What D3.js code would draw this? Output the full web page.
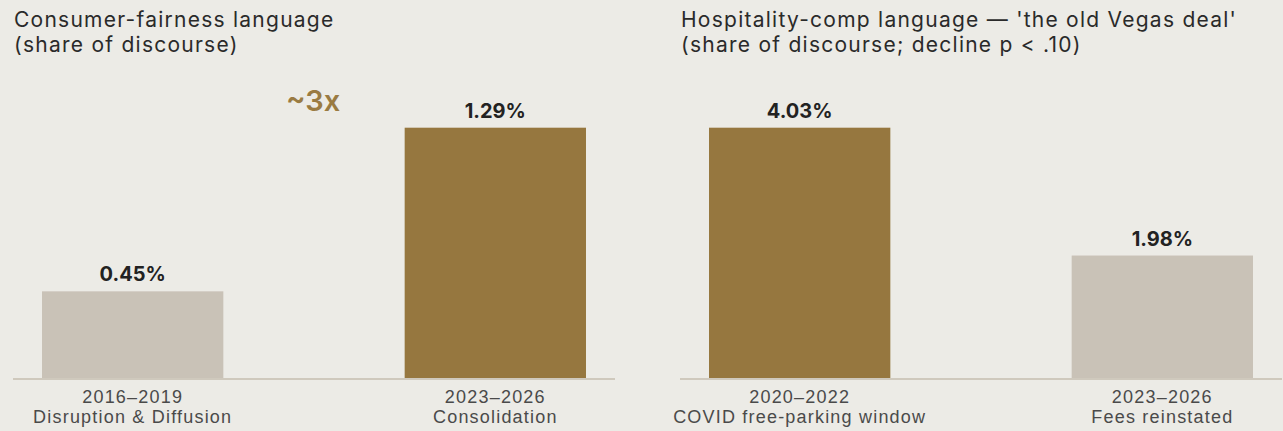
<!DOCTYPE html>
<html>
<head>
<meta charset="utf-8">
<script src="https://cdn.jsdelivr.net/npm/d3@7"></script>
<style>
  html, body { margin: 0; padding: 0; background: #ecebe6; }
  svg { display: block; font-family: Inter, "Noto Sans", sans-serif; }
</style>
</head>
<body>
<div id="chart"></div>
<script>
// ---- data ----
const leftTitle = ["Consumer-fairness language", "(share of discourse)"];
const leftCats = ["2016–2019|Disruption & Diffusion", "2023–2026|Consolidation"];
const leftValues = [0.45, 1.29];
const leftHighlight = [false, true];

const rightTitle = ["Hospitality-comp language — 'the old Vegas deal'", "(share of discourse; decline p < .10)"];
const rightCats = ["2020–2022|COVID free-parking window", "2023–2026|Fees reinstated"];
const rightValues = [4.03, 1.98];
const rightHighlight = [true, false];

const W = 1283, H = 431;
const GOLD = "#96773f", GREY = "#c9c2b7";

const svg = d3.select("#chart").append("svg")
  .attr("width", W).attr("height", H);

svg.append("rect").attr("width", W).attr("height", H).attr("fill", "#ecebe6");

function panel(x0, x1, title, cats, values, hl) {
  const g = svg.append("g");
  const x = d3.scaleBand().domain(cats).range([x0, x1])
    .paddingInner(0.5).paddingOuter(0.08);
  const y = d3.scaleLinear().domain([0, d3.max(values) * 1.15]).range([379, 90]);

  // title
  g.append("text").attr("x", x0 + 1).attr("y", 27)
    .attr("fill", "#2a2a2a").style("font-size", "21px").style("letter-spacing", "1.25px")
    .selectAll("tspan").data(title).join("tspan")
    .attr("x", x0 + 1).attr("dy", (d, i) => i ? 25 : 0).text(d => d);

  // bars
  g.selectAll("rect.bar").data(cats).join("rect")
    .attr("class", "bar")
    .attr("x", d => x(d)).attr("width", x.bandwidth())
    .attr("y", (d, i) => y(values[i]))
    .attr("height", (d, i) => y(0) - y(values[i]))
    .attr("fill", (d, i) => hl[i] ? GOLD : GREY);

  // value labels
  g.selectAll("text.val").data(cats).join("text")
    .attr("class", "val")
    .attr("x", d => x(d) + x.bandwidth() / 2)
    .attr("y", (d, i) => y(values[i]) - 10)
    .attr("text-anchor", "middle")
    .attr("fill", "#222").style("font-size", "20px").style("font-weight", 700)
    .text((d, i) => values[i].toFixed(2) + "%");

  // axis
  const ax = g.append("g").attr("transform", `translate(0,${y(0)})`)
    .call(d3.axisBottom(x).tickSize(0).tickPadding(0));
  ax.select(".domain").attr("stroke", "#cfc9bd").attr("stroke-width", 2)
    .attr("d", `M${x0},0H${x1}`);
  ax.selectAll(".tick text").remove();
  ax.selectAll(".tick").append("text")
    .attr("text-anchor", "middle").attr("fill", "#4a4a4a")
    .style("font-size", "18px").style("letter-spacing", "1.2px")
    .selectAll("tspan").data(d => d.split("|")).join("tspan")
    .attr("x", 0).attr("y", (d, i) => 24 + i * 20).text(d => d);

  return { x, y, g };
}

const L = panel(13, 615, leftTitle, leftCats, leftValues, leftHighlight);
panel(680, 1282, rightTitle, rightCats, rightValues, rightHighlight);

// ~3x annotation
L.g.append("text")
  .attr("x", 313).attr("y", 111)
  .attr("text-anchor", "middle")
  .attr("fill", "#9a7b42")
  .style("font-size", "29px").style("font-weight", 600)
  .text("~3x");
</script>
</body>
</html>
